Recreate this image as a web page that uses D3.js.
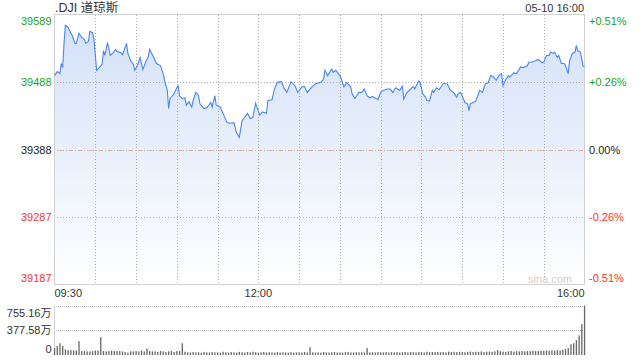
<!DOCTYPE html>
<html><head><meta charset="utf-8">
<script src="https://cdn.jsdelivr.net/npm/d3@7"></script>
<style>
html,body{margin:0;padding:0;background:#fff;}
svg{display:block;font-family:"Liberation Sans",Arial,sans-serif;}
</style></head>
<body><svg id="c" width="640" height="360"></svg>
<script>
// ---- data ----
const title = ".DJI 道琼斯";
const stamp = "05-10 16:00";
const prevClose = 39388;
const priceTicks = [39187, 39287, 39388, 39488, 39589];
const pctLabels = ["-0.51%", "-0.26%", "0.00%", "+0.26%", "+0.51%"];
const timeTickMinutes = [0, 150, 390];
const timeTickLabels = ["09:30", "12:00", "16:00"];
const volTicks = [0, 377.58, 755.16];
const volTickLabels = ["0", "377.58万", "755.16万"];
// minutes after 09:30 and index level
const minutes = [0,2,4,5,6,7,8,10,12,13,15,16,18,20,22,23,25,26,28,29,31,33,35,36,37,39,40,41,43,45,46,49,50,53,54,56,58,59,61,63,64,65,67,69,70,72,73,75,78,80,81,83,84,85,88,90,91,92,94,96,97,99,101,102,104,106,107,110,112,115,116,118,119,122,124,127,129,132,134,136,138,140,142,144,146,148,149,151,153,156,157,160,162,164,167,169,171,174,177,179,182,184,186,189,192,196,198,199,201,204,205,207,210,211,213,215,218,219,221,224,226,228,230,232,234,238,240,242,245,247,249,251,254,256,257,259,262,264,265,268,269,271,273,274,276,278,279,281,283,286,289,291,294,296,297,299,301,302,304,305,306,308,310,312,313,315,317,319,321,323,325,327,329,330,332,334,335,338,340,343,345,348,349,351,354,356,359,360,362,364,365,367,368,370,371,373,375,376,378,379,381,383,384,385,387,389,390];
const prices = [39498,39504,39501,39516,39510,39546,39573,39570,39561,39558,39546,39546,39561,39555,39552,39546,39549,39564,39562,39553,39506,39510,39515,39535,39528,39547,39538,39528,39532,39537,39534,39532,39529,39546,39531,39520,39515,39506,39513,39525,39516,39507,39518,39526,39537,39529,39525,39516,39513,39501,39491,39476,39449,39464,39471,39480,39483,39468,39464,39465,39454,39459,39451,39461,39473,39468,39456,39449,39450,39458,39451,39468,39454,39451,39442,39428,39427,39428,39413,39406,39431,39436,39442,39434,39436,39457,39451,39439,39444,39442,39461,39462,39479,39488,39489,39479,39473,39489,39483,39473,39481,39482,39473,39480,39486,39488,39493,39506,39498,39508,39503,39506,39498,39493,39481,39488,39481,39471,39464,39473,39473,39478,39468,39465,39467,39462,39473,39476,39478,39478,39473,39480,39476,39482,39463,39472,39478,39482,39478,39490,39488,39471,39466,39461,39460,39476,39473,39480,39477,39486,39486,39477,39472,39466,39471,39473,39463,39458,39456,39446,39456,39458,39460,39471,39476,39473,39486,39487,39498,39496,39491,39498,39501,39483,39492,39498,39496,39502,39501,39511,39510,39513,39518,39518,39520,39522,39517,39518,39528,39528,39533,39531,39533,39525,39528,39516,39516,39513,39501,39520,39531,39533,39543,39535,39533,39512,39511];
// volume (万), one bar per 2 minutes from 09:30
const volume = [105,136,180,136,86,75,75,70,70,211,
60,60,55,55,60,70,70,272,60,55,
60,65,60,60,60,55,45,35,55,55,
60,55,70,55,100,60,55,55,45,60,
55,45,55,60,45,60,60,181,50,40,
38,45,40,42,35,48,40,38,45,42,
40,35,50,42,38,45,40,36,48,42,
38,45,40,50,42,36,40,45,38,42,
40,36,45,38,42,40,35,44,38,40,
42,38,45,40,120,40,38,42,36,45,
40,38,42,45,38,40,36,42,48,40,
38,44,40,42,38,105,40,42,38,45,
42,40,45,38,42,40,44,38,42,46,
40,45,42,38,48,44,40,50,42,45,
44,48,42,46,40,52,45,48,44,50,
46,42,48,52,45,50,48,55,46,50,
52,48,55,75,58,52,48,55,60,52,
58,55,62,56,60,58,65,60,62,66,
64,70,66,72,68,75,70,80,
90,105,165,180,225,300,470,755.16];

// ---- drawing ----
const svg = d3.select("#c");
const L = 54.5, R = 584.5, T = 14.5, B = 284.5;
const VT = 305.5, VB = 355;
const x = d3.scaleLinear().domain([0, 390]).range([L, R]);
const y = d3.scaleLinear().domain([priceTicks[0], priceTicks[priceTicks.length-1]]).range([B, T]);
const yv = d3.scaleLinear().domain([0, volTicks[2]]).range([VB, VT]);
const gridColor = "#b0b0b0";

const defs = svg.append("defs");
const grad = defs.append("linearGradient").attr("id","g").attr("gradientUnits","userSpaceOnUse")
  .attr("x1",0).attr("x2",0).attr("y1",T).attr("y2",B);
grad.append("stop").attr("offset","0%").attr("stop-color","#d2e0f8");
grad.append("stop").attr("offset","100%").attr("stop-color","#ffffff");
// dotted patterns
const pH = defs.append("pattern").attr("id","dotH").attr("patternUnits","userSpaceOnUse").attr("width",3).attr("height",1);
pH.append("rect").attr("width",1).attr("height",1).attr("fill",gridColor);
const pV = defs.append("pattern").attr("id","dotV").attr("patternUnits","userSpaceOnUse").attr("width",1).attr("height",3);
pV.append("rect").attr("width",1).attr("height",1).attr("fill",gridColor);
const pH2 = defs.append("pattern").attr("id","dotH2").attr("patternUnits","userSpaceOnUse").attr("width",2).attr("height",1);
pH2.append("rect").attr("width",1).attr("height",1).attr("fill",gridColor);

const pts = minutes.map((m,i)=>({m, p: prices[i]}));

// area fill
svg.append("path").datum(pts)
  .attr("d", d3.area().x(d=>x(d.m)).y0(B).y1(d=>y(d.p)))
  .attr("fill","url(#g)");

// grid (dotted, drawn as 1px patterned strips)
const vGrid = d3.range(30, 390, 30);
svg.append("g").selectAll("rect").data(vGrid).join("rect")
  .attr("x",d=>Math.round(x(d))).attr("y",Math.ceil(T)).attr("width",1).attr("height",Math.floor(B-T))
  .attr("fill","url(#dotV)");
svg.append("g").selectAll("rect").data(priceTicks.slice(1,-1)).join("rect")
  .attr("x",Math.ceil(L)).attr("y",d=>Math.round(y(d))).attr("width",Math.floor(R-L)).attr("height",1)
  .attr("fill","url(#dotH)");
// prev close dashed
svg.append("line").attr("x1",L+4).attr("x2",R)
  .attr("y1",Math.round(y(prevClose))+0.5).attr("y2",Math.round(y(prevClose))+0.5)
  .attr("stroke","#e4aa92").attr("stroke-dasharray","4,6");

// frame
svg.append("rect").attr("x",L).attr("y",T).attr("width",R-L).attr("height",B-T)
  .attr("fill","none").attr("stroke","#d0d0d0");

// price line
svg.append("path").datum(pts)
  .attr("d", d3.line().x(d=>x(d.m)).y(d=>y(d.p)))
  .attr("fill","none").attr("stroke","#4a85ee").attr("stroke-width",1.1);

// watermark
svg.append("text").attr("x",572).attr("y",279).attr("text-anchor","end").attr("dominant-baseline","central")
  .attr("font-size",11).attr("fill","#cfcfcf").text("sina.com");

// labels
const colorFor = v => v > prevClose ? "#1aa31a" : (v < prevClose ? "#f0392b" : "#222");
const labY = v => Math.max(T+6, Math.min(B-6.5, y(v)));
svg.append("g").selectAll("text").data(priceTicks).join("text")
  .attr("x",51.5).attr("y",d=>labY(d)).attr("text-anchor","end").attr("dominant-baseline","central")
  .attr("font-size",11).attr("fill",colorFor).text(d=>d);
svg.append("g").selectAll("text").data(priceTicks).join("text")
  .attr("x",589).attr("y",d=>labY(d)).attr("text-anchor","start").attr("dominant-baseline","central")
  .attr("font-size",11).attr("fill",colorFor).text((d,i)=>pctLabels[i]);

// title & time
svg.append("text").attr("x",55).attr("y",8).attr("dominant-baseline","central")
  .attr("font-size",12.5).attr("fill","#333").attr("font-family","'Liberation Sans','Noto Sans CJK SC',sans-serif").text(title);
svg.append("text").attr("x",584).attr("y",8).attr("text-anchor","end").attr("dominant-baseline","central")
  .attr("font-size",11).attr("fill","#333").text(stamp);

// time axis labels
svg.append("g").selectAll("text").data(timeTickMinutes).join("text")
  .attr("x",d=>x(d)).attr("y",293)
  .attr("text-anchor",(d,i)=> i===0 ? "start" : (i===timeTickMinutes.length-1 ? "end" : "middle"))
  .attr("dominant-baseline","central").attr("font-size",11).attr("fill","#333")
  .text((d,i)=>timeTickLabels[i]);

// volume panel
svg.append("line").attr("x1",L).attr("x2",L).attr("y1",VT-0.5).attr("y2",VB).attr("stroke","#d0d0d0");
svg.append("g").selectAll("rect").data(volTicks.slice(1)).join("rect")
  .attr("x",Math.ceil(L)).attr("y",d=>Math.round(yv(d))).attr("width",Math.floor(R-L)).attr("height",1)
  .attr("fill","url(#dotH2)");
svg.append("g").selectAll("rect").data(volume).join("rect")
  .attr("x",(d,i)=>x(i*2)-0.6).attr("width",1.3)
  .attr("y",d=>yv(d)).attr("height",d=>VB-yv(d))
  .attr("fill","#666");
const volLabY = [349, 330, 312.5];
svg.append("g").selectAll("text").data(volTicks).join("text")
  .attr("x",51.5).attr("y",(d,i)=>volLabY[i]).attr("text-anchor","end").attr("dominant-baseline","central")
  .attr("font-size",11).attr("fill","#333").attr("font-family","'Liberation Sans','Noto Sans CJK SC',sans-serif")
  .text((d,i)=>volTickLabels[i]);
</script>
</body></html>
